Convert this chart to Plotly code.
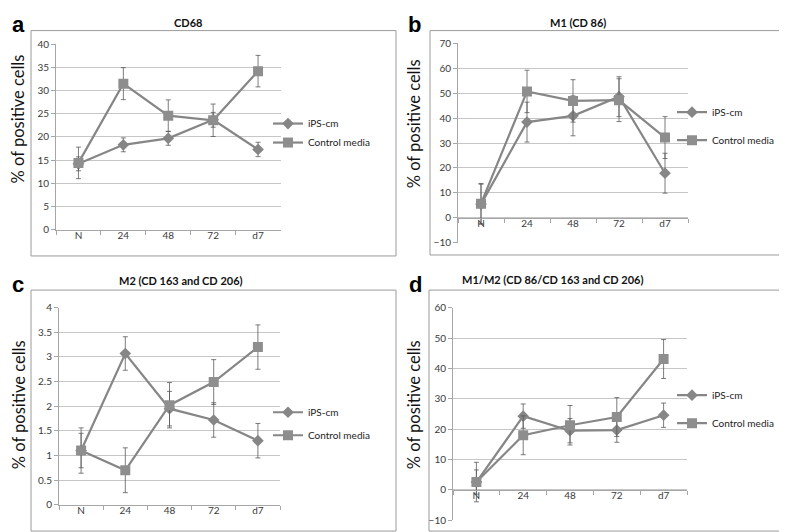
import plotly.graph_objects as go

W, H = 787, 532

categories = ["N", "24", "48", "72", "d7"]
series_names = ["iPS-cm", "Control media"]

# Panel a: CD68
a_ips = [14.2, 18.3, 19.7, 23.7, 17.3]
a_ips_err = [1.5, 1.5, 1.5, 1.6, 1.55]
a_ctrl = [14.4, 31.5, 24.6, 23.6, 34.2]
a_ctrl_err = [3.4, 3.45, 3.4, 3.5, 3.4]

# Panel b: M1 (CD 86)
b_ips = [5.5, 38.4, 40.9, 48.6, 17.9]
b_ips_err = [8.0, 8.0, 8.0, 8.0, 8.0]
b_ctrl = [5.7, 50.7, 46.9, 47.2, 32.2]
b_ctrl_err = [8.1, 8.5, 8.5, 8.6, 8.4]

# Panel c: M2 (CD 163 and CD 206)
c_ips = [1.1, 3.07, 1.95, 1.72, 1.3]
c_ips_err = [0.35, 0.34, 0.35, 0.35, 0.35]
c_ctrl = [1.1, 0.7, 2.02, 2.49, 3.2]
c_ctrl_err = [0.46, 0.455, 0.46, 0.455, 0.45]

# Panel d: M1/M2 (CD 86/CD 163 and CD 206)
d_ips = [2.6, 24.3, 19.5, 19.7, 24.6]
d_ips_err = [4.0, 4.0, 4.0, 4.0, 4.0]
d_ctrl = [2.6, 18.0, 21.3, 24.0, 43.1]
d_ctrl_err = [6.5, 6.4, 6.5, 6.4, 6.4]

titles = ["CD68", "M1 (CD 86)", "M2 (CD 163 and CD 206)", "M1/M2 (CD 86/CD 163 and CD 206)"]
letters = ["a", "b", "c", "d"]
y_ranges = [(0, 40, 5), (-10, 70, 10), (0, 4, 0.5), (-10, 60, 10)]

def px_x(x):
    return x / W

def px_y(y):
    return 1 - y / H

# pixel layout of plot areas (left, right, top, bottom)
areas = [(48, 272.5, 30, 220), (450, 680, 29, 233.5), (51, 272, 300, 502), (445, 679, 300, 518)]
boxes = [(23, 388, 16, 247), (422, 786, 16, 246), (23, 388, 282, 529), (421, 786, 282, 529)]
title_pos = [(180, 8), (570, 8), (173, 272), (545, 271)]
letter_pos = [(2, 10), (398, 10), (2, 276), (399, 276)]
ytitle_pos = [(10, 107), (406, 112), (11, 400), (406, 400)]
legend_pos = [(260, 121, 0), (664, 114, 9), (260, 419, 4), (664, 404, 9)]

data = [
    (a_ips, a_ips_err, a_ctrl, a_ctrl_err),
    (b_ips, b_ips_err, b_ctrl, b_ctrl_err),
    (c_ips, c_ips_err, c_ctrl, c_ctrl_err),
    (d_ips, d_ips_err, d_ctrl, d_ctrl_err),
]

LINE = "#868686"
ERR = "#5a5a5a"
GRID = "#c6c6c6"
AXIS = "#a6a6a6"
TXT = "#3a3a3a"
FONT = "Lato"

fig = go.Figure()
layout = dict(
    width=W, height=H, margin=dict(l=0, r=0, t=0, b=0),
    paper_bgcolor="white", plot_bgcolor="white",
    font=dict(family=FONT, size=10, color=TXT),
    shapes=[], annotations=[],
)

for i in range(4):
    n = "" if i == 0 else str(i + 1)
    xa, ya = "x" + n, "y" + n
    leg = "legend" if i == 0 else "legend" + str(i + 1)
    ips, ips_err, ctrl, ctrl_err = data[i]
    fig.add_trace(go.Scatter(
        x=categories, y=ips, xaxis=xa, yaxis=ya, name=series_names[0], legend=leg,
        legendgroup="g%d_0" % i,
        mode="lines+markers", line=dict(color=LINE, width=2.2),
        marker=dict(symbol="diamond", size=9, color=LINE),
        error_y=dict(type="data", array=ips_err, color=ERR, thickness=0.8, width=2.5),
    ))
    fig.add_trace(go.Scatter(
        x=categories, y=ctrl, xaxis=xa, yaxis=ya, name=series_names[1], legend=leg,
        legendgroup="g%d_1" % i,
        mode="lines+markers", line=dict(color=LINE, width=2.2),
        marker=dict(symbol="square", size=10, color="#8e8e8e"),
        error_y=dict(type="data", array=ctrl_err, color=ERR, thickness=0.8, width=2.5),
    ))
    l, r, t, b = areas[i]
    ylo, yhi, dt = y_ranges[i]
    ydom = [px_y(b), px_y(t)]
    zero_pos = ydom[0] + (0 - ylo) / (yhi - ylo) * (ydom[1] - ydom[0])
    xkey = "xaxis" + n
    ykey = "yaxis" + n
    xdict = dict(
        domain=[px_x(l), px_x(r)], type="category", range=[-0.5, 4.5],
        showline=True, linecolor=AXIS, linewidth=1, showgrid=False,
        ticks="outside", ticklen=4, tickcolor=AXIS, tickson="boundaries",
        ticklabelstandoff=-4,
        tickfont=dict(size=10, color=TXT), fixedrange=True,
    )
    if ylo < 0:
        xdict.update(anchor="free", position=zero_pos)
    else:
        xdict.update(anchor=ya)
    layout[xkey] = xdict
    layout[ykey] = dict(
        domain=ydom, anchor=xa, range=[ylo, yhi], dtick=dt, tick0=0,
        showline=True, linecolor=AXIS, linewidth=1,
        showgrid=True, gridcolor=GRID, gridwidth=1, zeroline=False,
        ticks="outside", ticklen=4, tickcolor=AXIS,
        tickfont=dict(size=10, color=TXT), fixedrange=True,
    )
    lx, ly, gap = legend_pos[i]
    layout[leg] = dict(
        x=px_x(lx), y=px_y(ly), xanchor="left", yanchor="middle",
        font=dict(size=10, color="#222222", family=FONT), bgcolor="rgba(0,0,0,0)",
        itemwidth=30, tracegroupgap=gap,
    )
    bx0, bx1, by0, by1 = boxes[i]
    layout["shapes"].append(dict(
        type="rect", xref="paper", yref="paper",
        x0=px_x(bx0), x1=px_x(bx1), y0=px_y(by1), y1=px_y(by0),
        line=dict(color="#9a9a9a", width=1), layer="below",
    ))
    tx, ty = title_pos[i]
    layout["annotations"].append(dict(
        text="<b>" + titles[i] + "</b>", x=px_x(tx), y=px_y(ty), xref="paper", yref="paper",
        showarrow=False, xanchor="center", yanchor="middle",
        font=dict(size=11, color="#111111", family=FONT),
    ))
    lx2, ly2 = letter_pos[i]
    layout["annotations"].append(dict(
        text="<b>" + letters[i] + "</b>", x=px_x(lx2), y=px_y(ly2), xref="paper", yref="paper",
        showarrow=False, xanchor="left", yanchor="middle",
        font=dict(size=22, color="#000000", family="Liberation Sans"),
    ))
    yx, yy = ytitle_pos[i]
    layout["annotations"].append(dict(
        text="% of positive cells", x=px_x(yx), y=px_y(yy), xref="paper", yref="paper",
        showarrow=False, xanchor="center", yanchor="middle", textangle=-90,
        font=dict(size=16.5, color="#111111", family=FONT),
    ))

fig.update_layout(**layout)
fig.write_html("out.html")
